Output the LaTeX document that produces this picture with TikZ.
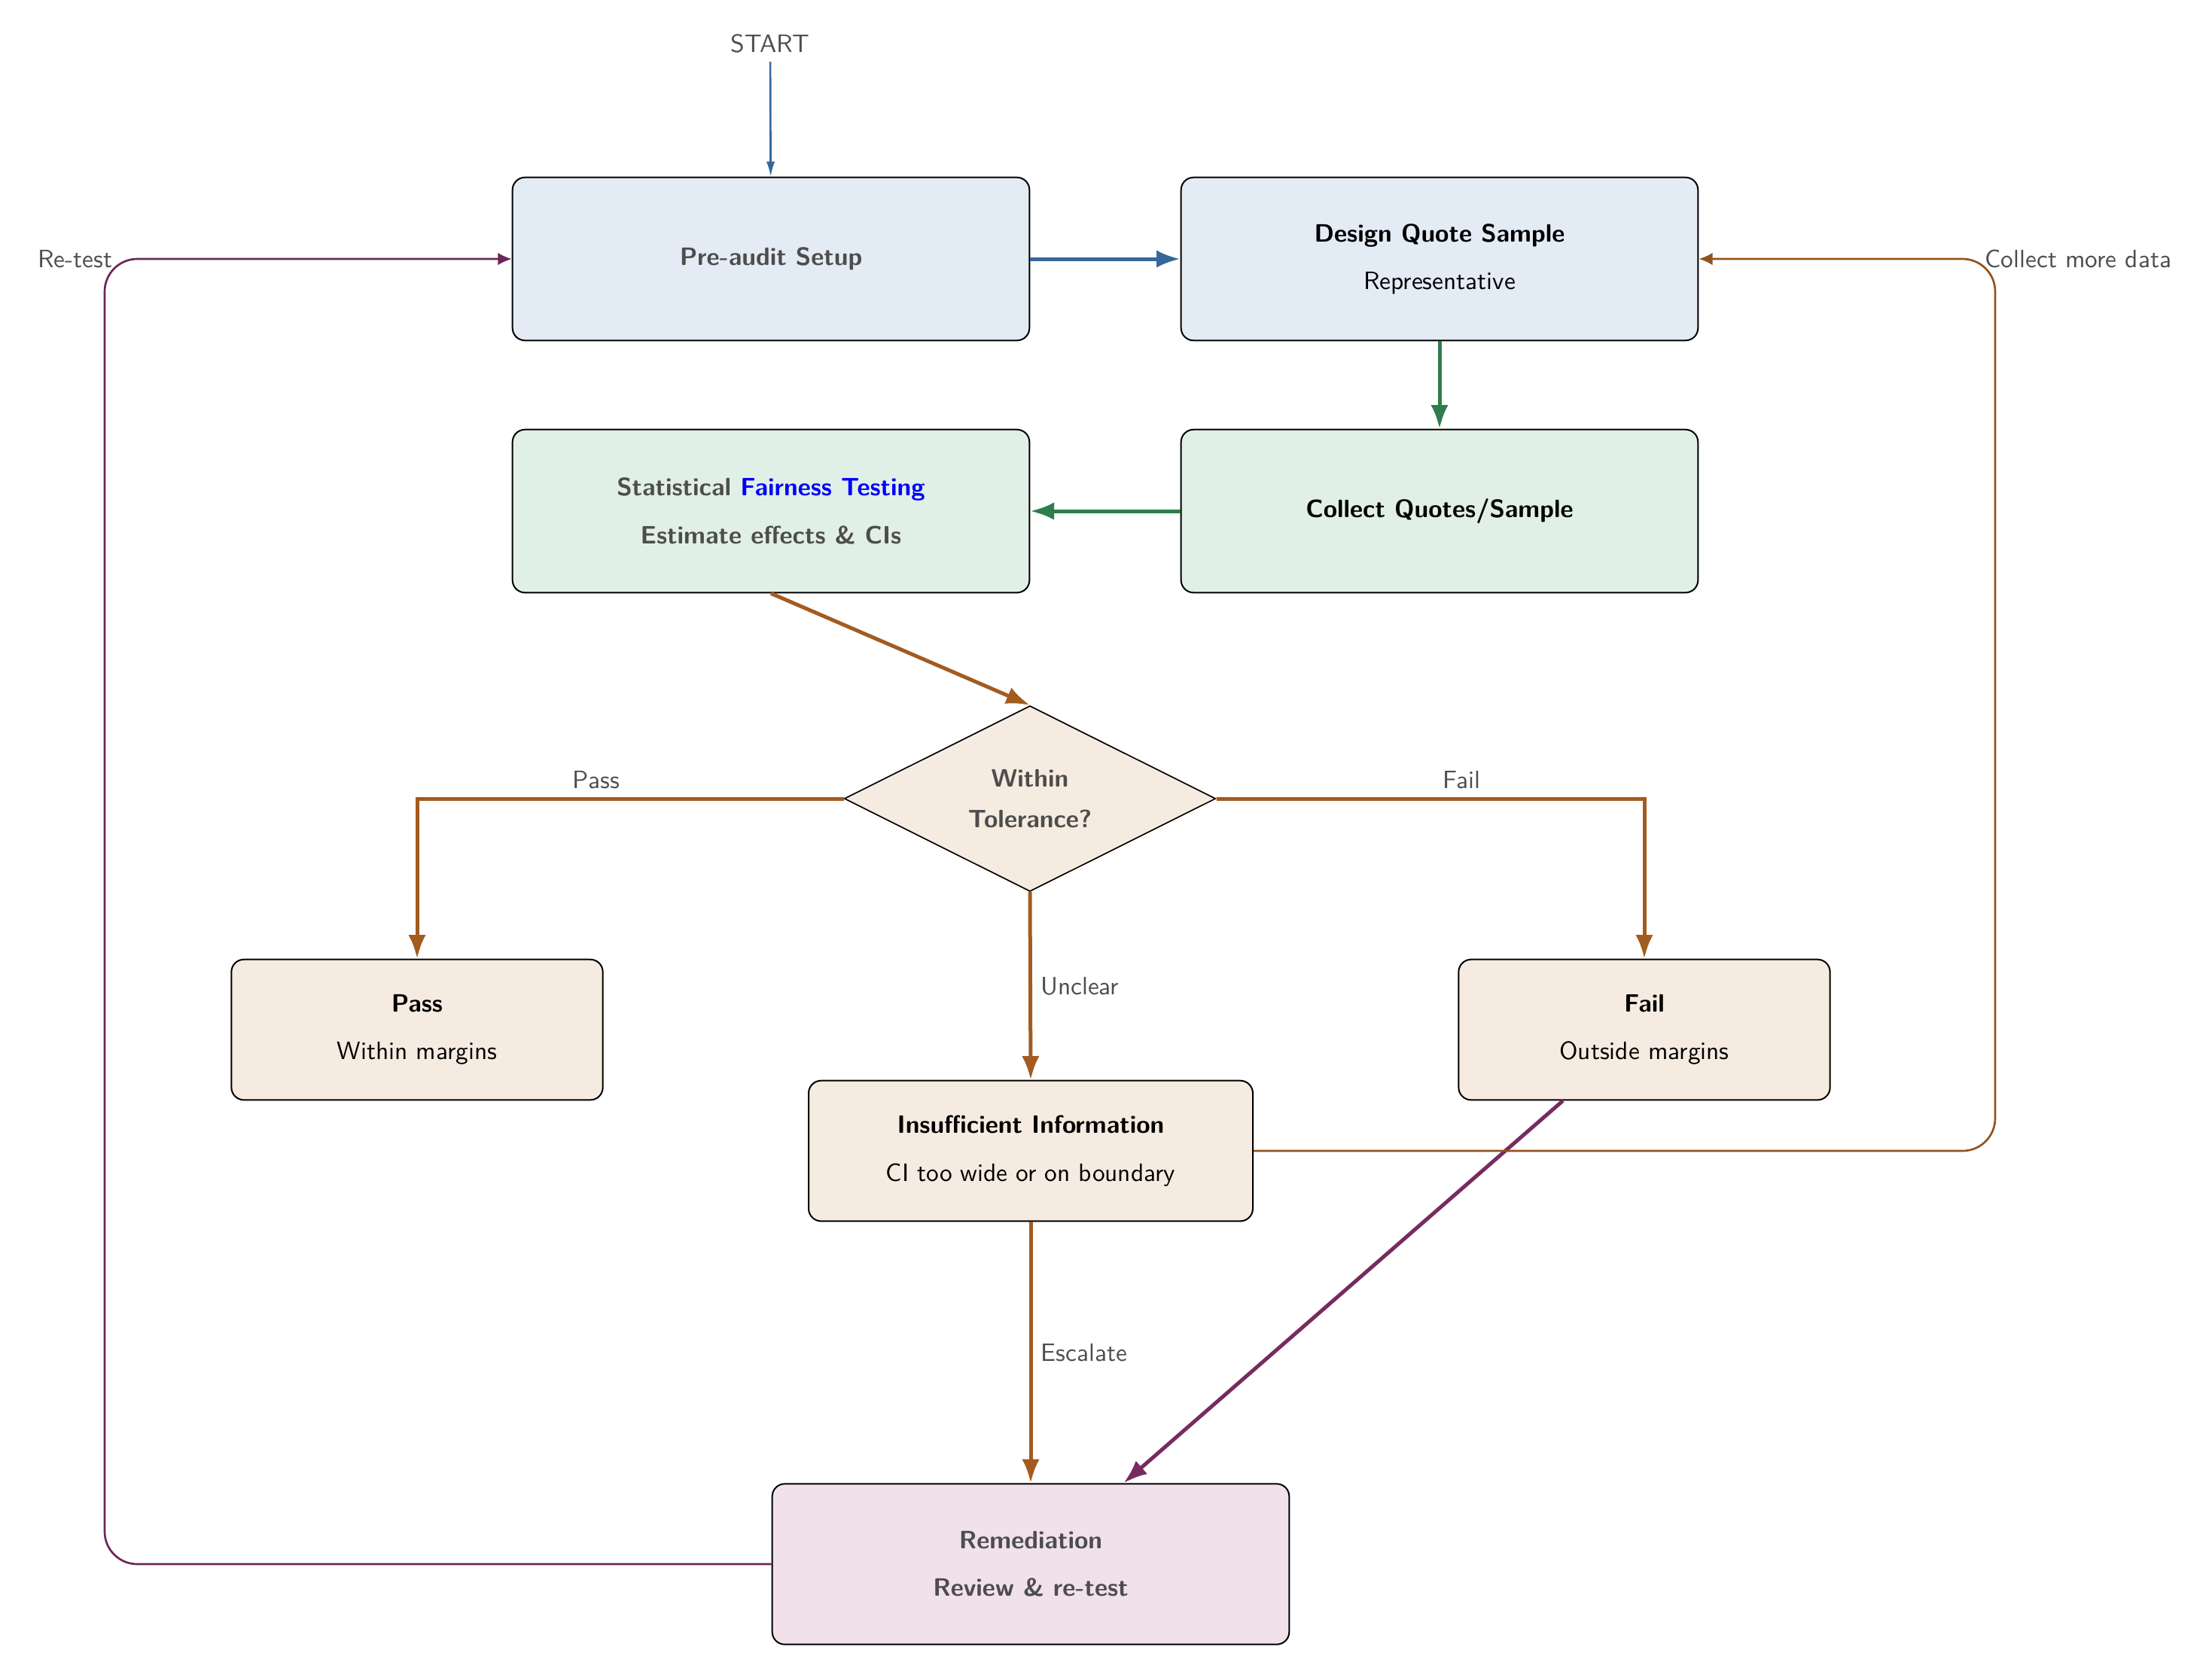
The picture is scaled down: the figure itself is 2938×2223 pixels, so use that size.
\documentclass[tikz,border=0pt]{standalone}
\usetikzlibrary{arrows.meta,shapes.geometric}
\definecolor{cblue}{HTML}{35689A}
\definecolor{cgreen}{HTML}{2E7D4F}
\definecolor{cbrown}{HTML}{A35B1F}
\definecolor{cpurple}{HTML}{772B60}
\definecolor{cloop}{HTML}{6C2655}
\definecolor{fblue}{HTML}{E3EBF5}
\definecolor{fgreen}{HTML}{E1F0E6}
\definecolor{fbeige}{HTML}{F6EBE0}
\definecolor{fpink}{HTML}{F1E1EB}
\definecolor{tgray}{HTML}{4D4D4D}
\tikzset{
  box/.style={draw=black, line width=0.6pt, rounded corners=5pt, align=center, font=\sffamily, inner sep=0pt},
  bigbox/.style={box, minimum width=206pt, minimum height=65pt},
  smallbox/.style={box, minimum width=148pt, minimum height=56pt},
  decision/.style={draw=black, line width=0.5pt, diamond, shape aspect=2, minimum width=148pt, minimum height=74pt, inner sep=0pt, align=center, font=\sffamily, fill=fbeige},
  lbl/.style={font=\sffamily, text=tgray},
  arr/.style={-{Latex[length=9.5pt,width=7pt]}, line width=1.5pt},
  thinarr/.style={-{Latex[length=6pt,width=3.4pt]}, line width=0.8pt},
  looparr/.style={-{Latex[length=5.5pt,width=5pt]}, line width=0.8pt, rounded corners=13pt},
}
\begin{document}
\begin{tikzpicture}[x=0.3pt,y=-0.3pt]
\useasboundingbox (0,0) rectangle (2938,2223);

\node[lbl] (start) at (1023,58) {START};
\node[bigbox, fill=fblue] (pre) at (1024,344) {\textcolor{tgray}{\textbf{Pre-audit Setup}}};
\node[bigbox, fill=fblue] (design) at (1912,344) {\textbf{Design Quote Sample}\\[7pt]Representative};
\node[bigbox, fill=fgreen] (stat) at (1024,679) {\textcolor{tgray}{\textbf{Statistical \textcolor{blue}{Fairness Testing}}}\\[7pt]\textcolor{tgray}{\textbf{Estimate effects \& CIs}}};
\node[bigbox, fill=fgreen] (collect) at (1912,679) {\textbf{Collect Quotes/Sample}};
\node[decision] (dec) at (1368,1061) {\textcolor{tgray}{\textbf{Within}}\\[4pt]\textcolor{tgray}{\textbf{Tolerance?}}};
\node[smallbox, fill=fbeige] (pass) at (554,1368) {\textbf{Pass}\\[7pt]Within margins};
\node[smallbox, fill=fbeige] (fail) at (2184,1368) {\textbf{Fail}\\[7pt]Outside margins};
\node[box, fill=fbeige, minimum width=177pt, minimum height=56pt] (insuff) at (1369,1529) {\textbf{Insufficient Information}\\[7pt]CI too wide or on boundary};
\node[bigbox, fill=fpink, minimum height=64pt] (remed) at (1369,2078) {\textcolor{tgray}{\textbf{Remediation}}\\[7pt]\textcolor{tgray}{\textbf{Review \& re-test}}};

\coordinate (rtl) at (139,1200);
\coordinate (cmd) at (2650,900);

\draw[thinarr, cblue] (start) -- (pre);
\draw[arr, cblue] (pre) -- (design);
\draw[arr, cgreen] (design) -- (collect);
\draw[arr, cgreen] (collect) -- (stat);
\draw[arr, cbrown] (stat.south) -- (dec.north);
\draw[arr, cbrown] (dec.west) -| node[lbl, above, pos=0.29] {Pass} (pass.north);
\draw[arr, cbrown] (dec.east) -| node[lbl, above, pos=0.287] {Fail} (fail.north);
\draw[arr, cbrown] (dec.south) -- node[lbl, right, pos=0.5] {Unclear} (insuff.north);
\draw[arr, cbrown] (insuff.south) -- node[lbl, right, pos=0.5] {Escalate} (remed.north);
\draw[arr, cpurple] (fail) -- (remed);
\draw[looparr, cloop] (remed.west) -| (rtl) |- (pre.west);
\draw[looparr, cbrown!90!black] (insuff.east) -| (cmd) |- (design.east);
\node[lbl, anchor=east, inner sep=0pt] (retest) at (150,344) {Re-test};
\node[lbl, anchor=west, inner sep=0pt] (more) at (2636,344) {Collect more data};
\end{tikzpicture}
\end{document}
